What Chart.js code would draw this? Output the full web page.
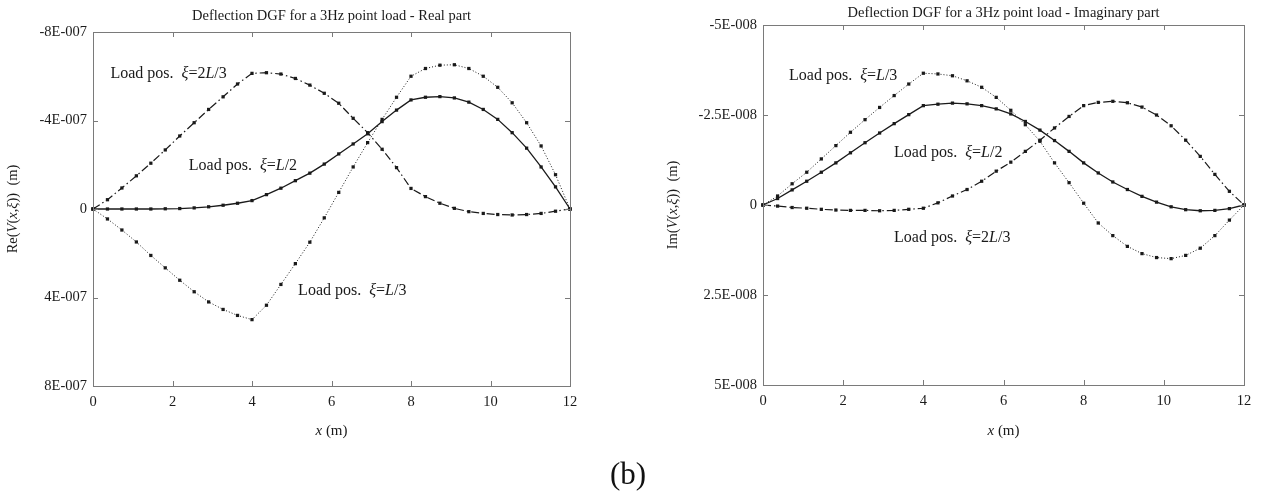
<!DOCTYPE html>
<html>
<head>
<meta charset="utf-8">
<script src="https://cdn.jsdelivr.net/npm/chart.js"></script>
<style>
  body { margin: 0; background: #fff; width: 1262px; height: 495px; position: relative; overflow: hidden; }
  canvas { position: absolute; top: 0; }
  #c1 { left: 0; }
  #c2 { left: 631px; }
  #fig { position: absolute; left: 578px; top: 458px; width: 100px; text-align: center;
         font: 31px/31px "Liberation Serif", serif; color: #111; }
</style>
</head>
<body>
<canvas id="c1" width="631" height="495"></canvas>
<canvas id="c2" width="631" height="495"></canvas>
<div id="fig">(b)</div>
<script>
// sample positions along the 12 m beam (m)
const xPositions = [0, 0.364, 0.727, 1.091, 1.455, 1.818, 2.182, 2.545, 2.909, 3.273, 3.636, 4,
  4.364, 4.727, 5.091, 5.455, 5.818, 6.182, 6.545, 6.909, 7.273, 7.636, 8,
  8.364, 8.727, 9.091, 9.455, 9.818, 10.182, 10.545, 10.909, 11.273, 11.636, 12];
const xTicks = [0, 2, 4, 6, 8, 10, 12];

// real part, in units of 1E-007 m
const REAL_UNIT = 1e-7;
const realHalf = [0, 0, 0, 0, 0, -0.01, -0.02, -0.05, -0.1, -0.17, -0.26, -0.38,
  -0.65, -0.94, -1.28, -1.62, -2.03, -2.49, -2.94, -3.4, -3.95, -4.47, -4.93,
  -5.05, -5.08, -5.02, -4.83, -4.5, -4.05, -3.45, -2.75, -1.9, -1.0, 0];
const realThird = [0, 0.45, 0.95, 1.49, 2.1, 2.66, 3.22, 3.74, 4.2, 4.54, 4.81, 5.0,
  4.35, 3.41, 2.47, 1.5, 0.4, -0.75, -1.9, -3.0, -4.05, -5.05, -6.0,
  -6.35, -6.5, -6.52, -6.35, -6.0, -5.5, -4.8, -3.9, -2.85, -1.55, 0];
const realTwoThirds = [0, -0.42, -0.95, -1.5, -2.07, -2.67, -3.3, -3.9, -4.5, -5.07, -5.65, -6.13,
  -6.16, -6.1, -5.9, -5.6, -5.23, -4.78, -4.1, -3.45, -2.7, -1.87, -0.93,
  -0.56, -0.26, -0.03, 0.12, 0.2, 0.25, 0.27, 0.25, 0.2, 0.1, 0];
const realTicks = [-8, -4, 0, 4, 8];
const realTickLabels = ['-8E-007', '-4E-007', '0', '4E-007', '8E-007'];

// imaginary part, in units of 1E-008 m
const IMAG_UNIT = 1e-8;
const imagHalf = [0, -0.18, -0.42, -0.66, -0.91, -1.17, -1.45, -1.73, -2.0, -2.26, -2.51, -2.76,
  -2.8, -2.83, -2.81, -2.76, -2.67, -2.53, -2.32, -2.08, -1.79, -1.49, -1.17,
  -0.89, -0.64, -0.43, -0.24, -0.08, 0.05, 0.13, 0.16, 0.15, 0.1, 0];
const imagThird = [0, -0.25, -0.59, -0.91, -1.28, -1.65, -2.02, -2.37, -2.71, -3.04, -3.36, -3.66,
  -3.64, -3.59, -3.45, -3.27, -2.99, -2.63, -2.23, -1.77, -1.17, -0.62, -0.05,
  0.5, 0.85, 1.15, 1.35, 1.46, 1.49, 1.4, 1.2, 0.85, 0.42, 0];
const imagTwoThirds = [0, 0.03, 0.07, 0.09, 0.12, 0.14, 0.15, 0.15, 0.16, 0.15, 0.12, 0.09,
  -0.06, -0.25, -0.43, -0.66, -0.94, -1.19, -1.49, -1.8, -2.14, -2.46, -2.76,
  -2.85, -2.88, -2.84, -2.72, -2.5, -2.2, -1.8, -1.35, -0.85, -0.38, 0];
const imagTicks = [-5, -2.5, 0, 2.5, 5];
const imagTickLabels = ['-5E-008', '-2.5E-008', '0', '2.5E-008', '5E-008'];

const SERIF = '"Liberation Serif", "Times New Roman", serif';
const INK = '#1a1a1a';

// text with *italic* parts
function drawRich(ctx, text, x, y, size, align) {
  const parts = text.split('*').map((t, i) => ({ t, it: i % 2 === 1 }));
  const fontOf = p => (p.it ? 'italic ' : '') + size + 'px ' + SERIF;
  let total = 0;
  parts.forEach(p => { ctx.font = fontOf(p); p.w = ctx.measureText(p.t).width; total += p.w; });
  let cx = align === 'center' ? x - total / 2 : x;
  ctx.textBaseline = 'middle';
  ctx.textAlign = 'left';
  parts.forEach(p => { ctx.font = fontOf(p); ctx.fillText(p.t, cx, y); cx += p.w; });
}

function makeChart(id, cfg) {
  const styles = {
    half: { borderDash: [], borderWidth: 1.3 },
    third: { borderDash: [1, 2], borderWidth: 1 },
    twoThirds: { borderDash: [8, 3, 1.5, 3], borderWidth: 1.2 }
  };
  const figText = {
    id: 'figText',
    afterDraw(chart) {
      const { ctx, chartArea: a, scales: { x, y } } = chart;
      ctx.save();
      ctx.strokeStyle = '#7a7a7a';
      ctx.lineWidth = 1;
      ctx.strokeRect(a.left + 0.5, a.top + 0.5, a.right - a.left, a.bottom - a.top);
      ctx.beginPath();
      x.ticks.forEach(t => {
        const px = Math.round(x.getPixelForValue(t.value)) + 0.5;
        ctx.moveTo(px, a.bottom); ctx.lineTo(px, a.bottom - 5);
        ctx.moveTo(px, a.top); ctx.lineTo(px, a.top + 5);
      });
      y.ticks.forEach(t => {
        const py = Math.round(y.getPixelForValue(t.value)) + 0.5;
        ctx.moveTo(a.left, py); ctx.lineTo(a.left + 5, py);
        ctx.moveTo(a.right, py); ctx.lineTo(a.right - 5, py);
      });
      ctx.stroke();

      ctx.fillStyle = INK;
      const midX = (a.left + a.right) / 2;
      drawRich(ctx, cfg.title, midX, cfg.titleY, 14.5, 'center');
      drawRich(ctx, '*x* (m)', midX, 431, 15, 'center');
      ctx.save();
      ctx.translate(cfg.yTitleX, (a.top + a.bottom) / 2);
      ctx.rotate(-Math.PI / 2);
      drawRich(ctx, cfg.yTitle, 0, 0, 14.5, 'center');
      ctx.restore();
      cfg.labels.forEach(l => {
        drawRich(ctx, l.text, x.getPixelForValue(l.x), y.getPixelForValue(l.y * cfg.unit), 16, 'left');
      });
      ctx.restore();
    }
  };
  return new Chart(document.getElementById(id), {
    type: 'scatter',
    data: {
      datasets: cfg.series.map(s => Object.assign({
        data: xPositions.map((xv, i) => ({ x: xv, y: s.values[i] * cfg.unit })),
        showLine: true,
        borderColor: INK,
        backgroundColor: INK,
        pointStyle: 'rect',
        pointRadius: 2.3,
        pointBorderWidth: 0,
        pointBackgroundColor: INK,
        pointHoverRadius: 0,
        tension: 0,
        clip: false
      }, styles[s.style]))
    },
    options: {
      responsive: false,
      animation: false,
      events: [],
      layout: { padding: { left: 0, top: cfg.area.top, right: 631 - cfg.area.right, bottom: 0 } },
      plugins: { legend: { display: false }, tooltip: { enabled: false } },
      scales: {
        x: {
          type: 'linear', min: 0, max: 12,
          afterBuildTicks: s => { s.ticks = xTicks.map(v => ({ value: v })); },
          afterFit: s => { s.height = 495 - cfg.area.bottom; },
          grid: { display: false, drawTicks: false },
          border: { display: false },
          ticks: { padding: 7, maxRotation: 0, autoSkip: false, color: INK,
                   font: { family: SERIF, size: 14.5 } }
        },
        y: {
          type: 'linear', reverse: true,
          min: cfg.ticks[0] * cfg.unit, max: cfg.ticks[cfg.ticks.length - 1] * cfg.unit,
          afterBuildTicks: s => { s.ticks = cfg.ticks.map(v => ({ value: v * cfg.unit })); },
          afterFit: s => { s.width = cfg.area.left; },
          grid: { display: false, drawTicks: false },
          border: { display: false },
          ticks: { padding: 6, autoSkip: false, color: INK, font: { family: SERIF, size: 14.5 },
                   callback: (v, i) => cfg.tickLabels[i] }
        }
      }
    },
    plugins: [figText]
  });
}

makeChart('c1', {
  title: 'Deflection DGF for a 3Hz point load - Real part',
  titleY: 16,
  yTitle: 'Re(*V*(*x*,*ξ*))  (m)',
  yTitleX: 13,
  area: { left: 93, right: 570, top: 32, bottom: 386 },
  unit: REAL_UNIT,
  ticks: realTicks,
  tickLabels: realTickLabels,
  series: [
    { values: realHalf, style: 'half' },
    { values: realThird, style: 'third' },
    { values: realTwoThirds, style: 'twoThirds' }
  ],
  labels: [
    { x: 0.44, y: -6.1, text: 'Load pos.  *ξ*=2*L*/3' },
    { x: 2.41, y: -1.95, text: 'Load pos.  *ξ*=*L*/2' },
    { x: 5.16, y: 3.7, text: 'Load pos.  *ξ*=*L*/3' }
  ]
});

makeChart('c2', {
  title: 'Deflection DGF for a 3Hz point load - Imaginary part',
  titleY: 13,
  yTitle: 'Im(*V*(*x*,*ξ*))  (m)',
  yTitleX: 42,
  area: { left: 132, right: 613, top: 25, bottom: 385 },
  unit: IMAG_UNIT,
  ticks: imagTicks,
  tickLabels: imagTickLabels,
  series: [
    { values: imagHalf, style: 'half' },
    { values: imagThird, style: 'third' },
    { values: imagTwoThirds, style: 'twoThirds' }
  ],
  labels: [
    { x: 0.65, y: -3.59, text: 'Load pos.  *ξ*=*L*/3' },
    { x: 3.27, y: -1.45, text: 'Load pos.  *ξ*=*L*/2' },
    { x: 3.27, y: 0.92, text: 'Load pos.  *ξ*=2*L*/3' }
  ]
});
</script>
</body>
</html>
